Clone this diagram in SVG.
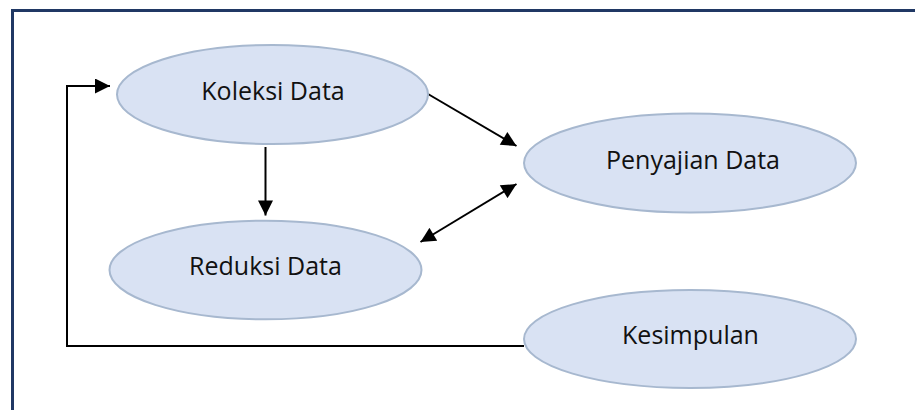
<svg xmlns="http://www.w3.org/2000/svg" width="915" height="410" viewBox="0 0 915 410">
  <style>
    .node ellipse { fill: #D9E2F3; stroke: #A7B8CF; stroke-width: 2; }
    .node text { font-family: "Open Sans", "Liberation Sans", sans-serif; font-size: 25px; fill: #111; text-anchor: middle; }
    .edge { fill: none; stroke: #000; stroke-width: 2; }
  </style>
  <defs>
    <marker id="arrow" viewBox="0 0 10 10" refX="10" refY="5" markerWidth="8.5" markerHeight="7.5" markerUnits="strokeWidth" orient="auto-start-reverse">
      <path d="M0,0 L10,5 L0,10 z" fill="#000"/>
    </marker>
  </defs>
  <rect width="915" height="410" fill="#fff"/>
  <!-- outer frame -->
  <path d="M12.5,410 V10.5 H915" fill="none" stroke="#203864" stroke-width="3"/>

  <g id="connectors">
    <path class="edge" d="M524,346 H67 V86 H110" marker-end="url(#arrow)"/>
    <path class="edge" d="M265.5,147 V215.5" marker-end="url(#arrow)"/>
    <path class="edge" d="M428,94 L516.5,146" marker-end="url(#arrow)"/>
    <path class="edge" d="M516.5,184 L420.5,242" marker-start="url(#arrow)" marker-end="url(#arrow)"/>
  </g>

  <g id="koleksi" class="node">
    <ellipse cx="272.5" cy="94.5" rx="155.5" ry="49.5"/>
    <text x="273" y="99.5">Koleksi Data</text>
  </g>
  <g id="penyajian" class="node">
    <ellipse cx="690" cy="163" rx="166" ry="49.5"/>
    <text x="693" y="168.5">Penyajian Data</text>
  </g>
  <g id="reduksi" class="node">
    <ellipse cx="265.5" cy="270" rx="156" ry="49.3"/>
    <text x="265.5" y="274.5">Reduksi Data</text>
  </g>
  <g id="kesimpulan" class="node">
    <ellipse cx="690" cy="339" rx="166" ry="49"/>
    <text x="690.5" y="343.5">Kesimpulan</text>
  </g>
</svg>
